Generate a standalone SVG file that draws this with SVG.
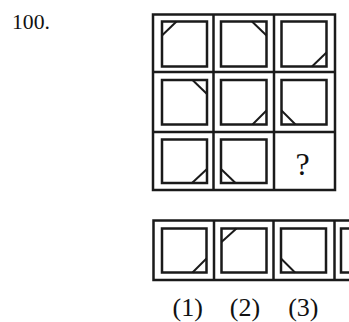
<svg xmlns="http://www.w3.org/2000/svg" width="349" height="322" viewBox="0 0 349 322">
<style>
.frame{fill:none;stroke:#1a1a1a;stroke-width:2.5}
.inner{fill:none;stroke:#1a1a1a;stroke-width:2.5}
.cut{fill:none;stroke:#1a1a1a;stroke-width:2}
.t{font-family:"Liberation Serif","Times New Roman",serif;fill:#111}
</style>
<rect width="349" height="322" fill="#fff"/>
<text class="t" x="12" y="28.5" font-size="22" textLength="38" lengthAdjust="spacingAndGlyphs">100.</text>
<g id="grid">
<rect class="frame" x="153" y="14.5" width="182" height="175.5"/>
<line class="frame" x1="213.5" y1="14.5" x2="213.5" y2="190"/>
<line class="frame" x1="274" y1="14.5" x2="274" y2="190"/>
<line class="frame" x1="153" y1="72" x2="335" y2="72"/>
<line class="frame" x1="153" y1="132" x2="335" y2="132"/>
</g>
<g id="cell-1-1"><rect class="inner" x="162" y="21.5" width="45" height="45"/><line class="cut" x1="176.5" y1="21.5" x2="162" y2="35.5"/></g>
<g id="cell-1-2"><rect class="inner" x="221" y="21.5" width="45.5" height="45"/><line class="cut" x1="252" y1="21.5" x2="266.5" y2="35.5"/></g>
<g id="cell-1-3"><rect class="inner" x="281.5" y="21.5" width="45" height="45"/><line class="cut" x1="312" y1="66.5" x2="326.5" y2="52.5"/></g>
<g id="cell-2-1"><rect class="inner" x="162" y="80" width="45" height="44.5"/><line class="cut" x1="192.5" y1="80" x2="207" y2="94"/></g>
<g id="cell-2-2"><rect class="inner" x="221" y="80" width="45.5" height="44.5"/><line class="cut" x1="252.5" y1="124.5" x2="266.5" y2="110.5"/></g>
<g id="cell-2-3"><rect class="inner" x="281.5" y="80" width="45" height="44.5"/><line class="cut" x1="281.5" y1="110.5" x2="295.5" y2="124.5"/></g>
<g id="cell-3-1"><rect class="inner" x="162" y="139.5" width="45" height="43.5"/><line class="cut" x1="192" y1="183" x2="207" y2="169"/></g>
<g id="cell-3-2"><rect class="inner" x="221" y="139.5" width="45.5" height="43.5"/><line class="cut" x1="221" y1="169" x2="235.5" y2="183"/></g>
<g id="cell-3-3"><text class="t" x="302.5" y="175" font-size="32" text-anchor="middle">?</text></g>
<g id="options">
<rect class="frame" x="153.5" y="220.5" width="200" height="59.5"/>
<line class="frame" x1="214" y1="220.5" x2="214" y2="280"/>
<line class="frame" x1="273.5" y1="220.5" x2="273.5" y2="280"/>
<line class="frame" x1="334.5" y1="220.5" x2="334.5" y2="280"/>
</g>
<g id="option-1"><rect class="inner" x="162" y="228.5" width="44.5" height="44"/><line class="cut" x1="192.5" y1="272.5" x2="206.5" y2="258.5"/></g>
<g id="option-2"><rect class="inner" x="221.5" y="228.5" width="45" height="44"/><line class="cut" x1="236.5" y1="228.5" x2="221.5" y2="242"/></g>
<g id="option-3"><rect class="inner" x="281" y="228.5" width="45" height="44"/><line class="cut" x1="281" y1="258.5" x2="295" y2="272.5"/></g>
<g id="option-4"><rect class="inner" x="341" y="228.5" width="45" height="44"/></g>
<text class="t" x="187.7" y="316" font-size="26" text-anchor="middle">(1)</text>
<text class="t" x="245" y="316" font-size="26" text-anchor="middle">(2)</text>
<text class="t" x="303.3" y="316" font-size="26" text-anchor="middle">(3)</text>
</svg>
